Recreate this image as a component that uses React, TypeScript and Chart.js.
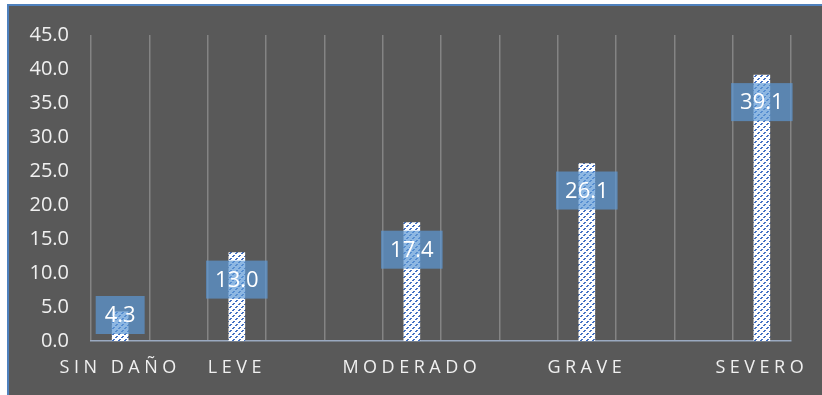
import React, { useEffect, useRef } from "react";
import { Chart, registerables, CategoryScale } from "chart.js";

Chart.register(...registerables);

// Severity categories; blank slots keep the spacing between the named groups
const categories = ["SIN DAÑO", "", "LEVE", "", "", "MODERADO", "", "", "GRAVE", "", "", "SEVERO"];
const percentages: (number | null)[] = [4.3, null, 13.0, null, null, 17.4, null, null, 26.1, null, null, 39.1];
const yMin = 0;
const yMax = 45;
const yStep = 5;

const FONT = '"Open Sans", "Noto Sans", sans-serif';

// Category axis whose labels are drawn with extra letter spacing
class SpacedCategoryScale extends CategoryScale {
  static id = "spacedCategory";
  static defaults = CategoryScale.defaults;
  drawLabels(area: any) {
    const ctx: any = (this as any).ctx;
    ctx.save();
    ctx.letterSpacing = "4.5px";
    super.drawLabels(area);
    ctx.restore();
  }
}
Chart.register(SpacedCategoryScale as any);

function makeHatch(ctx: CanvasRenderingContext2D): CanvasPattern | string {
  const size = 6;
  const tile = document.createElement("canvas");
  tile.width = size;
  tile.height = size;
  const p = tile.getContext("2d");
  if (!p) return "#ffffff";
  p.fillStyle = "#ffffff";
  p.fillRect(0, 0, size, size);
  p.fillStyle = "#4472c4";
  for (let i = 0; i < size; i++) {
    if (i % 3 === 2) continue;
    const x = (size - 1 - i + size) % size;
    p.fillRect(x, i, 2, 1);
    if (x + 2 > size) p.fillRect(x - size, i, 2, 1);
  }
  return ctx.createPattern(tile, "repeat") || "#ffffff";
}

// Boxed value labels drawn near the top of each bar
const valueLabels = {
  id: "valueLabels",
  afterDatasetsDraw(chart: any) {
    const ctx: CanvasRenderingContext2D = chart.ctx;
    const meta = chart.getDatasetMeta(0);
    const base = chart.scales.y.getPixelForValue(0);
    ctx.save();
    ctx.font = `22px ${FONT}`;
    ctx.textAlign = "center";
    ctx.textBaseline = "middle";
    meta.data.forEach((bar: any, i: number) => {
      const v = percentages[i];
      if (v == null) return;
      const text = v.toFixed(1);
      const w = ctx.measureText(text).width + 18;
      const h = 38;
      const cy = Math.min(bar.y + 27, base - 26);
      ctx.fillStyle = "rgba(92,152,214,0.7)";
      ctx.fillRect(bar.x - w / 2, cy - h / 2, w, h);
      ctx.fillStyle = "#ffffff";
      ctx.fillText(text, bar.x, cy + 1);
    });
    ctx.restore();
  },
};

export default function App() {
  const canvasRef = useRef<HTMLCanvasElement | null>(null);

  useEffect(() => {
    const canvas = canvasRef.current;
    if (!canvas) return;
    const ctx = canvas.getContext("2d");
    if (!ctx) return;
    const hatch = makeHatch(ctx);

    const chart = new Chart(canvas, {
      type: "bar",
      data: {
        labels: categories,
        datasets: [
          {
            data: percentages,
            backgroundColor: hatch as any,
            borderWidth: 0,
            barThickness: 16,
          },
        ],
      },
      options: {
        animation: false,
        responsive: false,
        devicePixelRatio: 1,
        layout: { padding: { top: 29, right: 31, left: 0, bottom: 0 } },
        plugins: {
          legend: { display: false },
          tooltip: { enabled: false },
        },
        scales: {
          x: {
            type: "spacedCategory" as any,
            offset: true,
            grid: {
              display: true,
              offset: true,
              color: "#848484",
              lineWidth: 1.5,
              drawTicks: false,
            },
            border: { display: true, color: "#9aa9c0", width: 1.5 },
            ticks: {
              autoSkip: false,
              maxRotation: 0,
              minRotation: 0,
              padding: 16,
              color: "#f0f0f0",
              font: { family: FONT, size: 18 },
            },
            afterFit: (scale: any) => {
              scale.height = 54;
              scale.paddingLeft = 0;
              scale.paddingRight = 0;
            },
          } as any,
          y: {
            min: yMin,
            max: yMax,
            grid: { display: false, drawTicks: false },
            border: { display: false },
            ticks: {
              stepSize: yStep,
              padding: 22,
              color: "#f0f0f0",
              font: { family: FONT, size: 20 },
              callback: (v: any) => Number(v).toFixed(1),
            },
            afterFit: (scale: any) => {
              scale.width = 82;
              scale.paddingTop = 0;
              scale.paddingBottom = 0;
            },
          },
        },
      },
      plugins: [valueLabels],
    });

    return () => chart.destroy();
  }, []);

  return (
    <div
      style={{
        position: "fixed",
        left: 7,
        top: 4,
        width: 830,
        height: 400,
        background: "#595959",
        borderTop: "2px solid #4f81bd",
        borderLeft: "2px solid #4f81bd",
      }}
    >
      <canvas ref={canvasRef} width={813} height={389} style={{ display: "block" }} />
    </div>
  );
}
